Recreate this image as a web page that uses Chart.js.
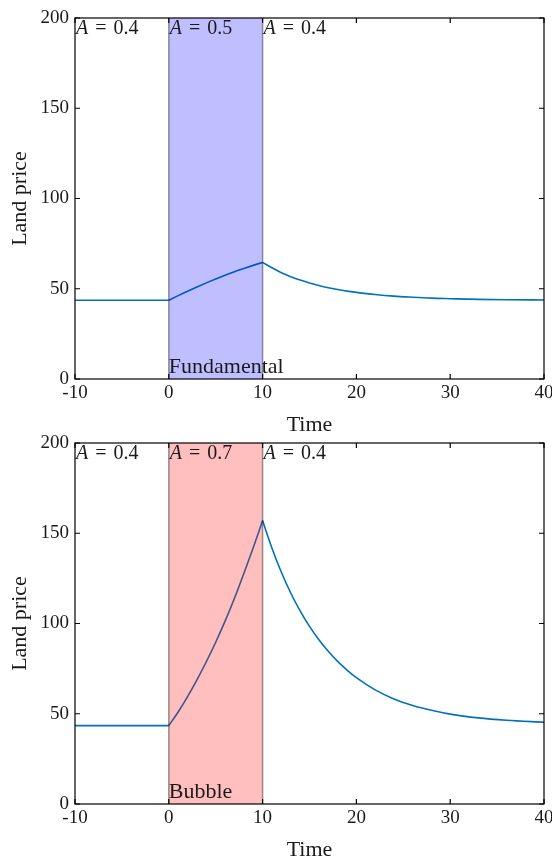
<!DOCTYPE html>
<html>
<head>
<meta charset="utf-8">
<script src="https://cdn.jsdelivr.net/npm/chart.js@4"></script>
<style>
  html, body { margin: 0; padding: 0; background: #fff; }
  #wrap { position: relative; width: 552px; height: 859px; overflow: hidden; }
  canvas { position: absolute; left: 0; }
  #topChart { top: 0; }
  #bottomChart { top: 425px; }
</style>
</head>
<body>
<div id="wrap">
  <canvas id="topChart" width="552" height="438"></canvas>
  <canvas id="bottomChart" width="552" height="438"></canvas>
</div>
<script>
// sample times
const times = [-10, 0, 1, 2, 3, 4, 5, 6, 7, 8, 9, 10,
    11, 12, 13, 14, 15, 16, 17, 18, 19, 20, 22, 24, 26, 28, 30, 33, 36, 40];

// top panel: fundamental price
const fundamentalPrice = [43.6, 43.6, 46.2, 48.65, 51.0, 53.25, 55.4, 57.45, 59.4, 61.2, 62.95, 64.6,
    61.6, 58.9, 56.7, 54.8, 53.2, 51.8, 50.6, 49.6, 48.7, 48.0, 46.8, 45.9, 45.3, 44.8, 44.5, 44.1, 43.9, 43.8];

// bottom panel: bubble price
const bubblePrice = [43.4, 43.4, 51.0, 59.5, 68.8, 78.8, 89.6, 101.3, 114.0, 127.7, 142.0, 157.0,
    141.7, 128.4, 116.9, 107.0, 98.4, 91.0, 84.6, 79.0, 74.2, 70.0, 63.2, 58.2, 54.6, 51.9, 49.8, 47.7, 46.4, 45.3];

// shaded window and A labels
const shadeWindow = [0, 10];
const regimeTimes = [-10, 0, 10];
const topRegimes = ['0.4', '0.5', '0.4'];
const bottomRegimes = ['0.4', '0.7', '0.4'];

const xTicks = [-10, 0, 10, 20, 30, 40];
const yTicks = [0, 50, 100, 150, 200];

const FONT = "'Liberation Serif', 'Times New Roman', serif";
const INK = '#1a1a1a';
const LINE = '#0072BD';

// split the path at the regime switches so the kinks stay sharp
function phases(series) {
    const cuts = regimeTimes.slice(1).map(t => times.indexOf(t));
    const bounds = [0, ...cuts, times.length - 1];
    const out = [];
    for (let k = 0; k < bounds.length - 1; k++) {
        const pts = [];
        for (let i = bounds[k]; i <= bounds[k + 1]; i++) pts.push({ x: times[i], y: series[i] });
        out.push({
            data: pts,
            borderColor: LINE,
            borderWidth: 1.6,
            pointRadius: 0,
            fill: false,
            cubicInterpolationMode: 'monotone'
        });
    }
    return out;
}

// shading, regime labels, box with inward ticks
function panelPlugin(shadeColor, regimes, caption) {
    return {
        id: 'panel',
        afterDatasetsDraw(chart) {
            const ctx = chart.ctx;
            const a = chart.chartArea;
            const xs = chart.scales.x;
            const x0 = xs.getPixelForValue(shadeWindow[0]);
            const x1 = xs.getPixelForValue(shadeWindow[1]);
            ctx.save();
            ctx.fillStyle = shadeColor;
            ctx.fillRect(x0, a.top, x1 - x0, a.bottom - a.top);
            ctx.strokeStyle = 'rgba(0,0,0,0.4)';
            ctx.lineWidth = 1.5;
            ctx.beginPath();
            ctx.moveTo(x0, a.top); ctx.lineTo(x0, a.bottom);
            ctx.moveTo(x1, a.top); ctx.lineTo(x1, a.bottom);
            ctx.stroke();

            ctx.fillStyle = INK;
            ctx.textBaseline = 'top';
            ctx.textAlign = 'left';
            regimeTimes.forEach((t, i) => {
                let px = xs.getPixelForValue(t) + 1;
                ctx.font = 'italic 20px ' + FONT;
                ctx.fillText('A', px, a.top + 1);
                px += ctx.measureText('A').width + 7;
                ctx.font = '20px ' + FONT;
                ctx.fillText('=', px, a.top + 1);
                px += ctx.measureText('=').width + 7;
                ctx.fillText(regimes[i], px, a.top + 1);
            });
            ctx.textBaseline = 'alphabetic';
            ctx.font = '22px ' + FONT;
            ctx.fillText(caption, x0, a.bottom - 6);
            ctx.restore();
        },
        afterDraw(chart) {
            const ctx = chart.ctx;
            const a = chart.chartArea;
            const xs = chart.scales.x;
            const ys = chart.scales.y;
            const len = 5;
            ctx.save();
            ctx.strokeStyle = '#000';
            ctx.lineWidth = 1.2;
            ctx.strokeRect(a.left, a.top, a.right - a.left, a.bottom - a.top);
            ctx.beginPath();
            xTicks.forEach(v => {
                const px = xs.getPixelForValue(v);
                ctx.moveTo(px, a.bottom); ctx.lineTo(px, a.bottom - len);
                ctx.moveTo(px, a.top); ctx.lineTo(px, a.top + len);
            });
            yTicks.forEach(v => {
                const py = ys.getPixelForValue(v);
                ctx.moveTo(a.left, py); ctx.lineTo(a.left + len, py);
                ctx.moveTo(a.right, py); ctx.lineTo(a.right - len, py);
            });
            ctx.stroke();
            ctx.restore();
        }
    };
}

function makePanel(canvasId, series, shadeColor, regimes, caption) {
    return new Chart(document.getElementById(canvasId), {
        type: 'line',
        data: { datasets: phases(series) },
        options: {
            responsive: false,
            animation: false,
            layout: { padding: { top: 18, right: 8, left: 0, bottom: 0 }, autoPadding: false },
            plugins: { legend: { display: false }, tooltip: { enabled: false } },
            scales: {
                x: {
                    type: 'linear',
                    min: -10,
                    max: 40,
                    afterBuildTicks: s => { s.ticks = xTicks.map(v => ({ value: v })); },
                    afterFit: s => { s.height = 59; s.paddingLeft = 0; s.paddingRight = 0; },
                    grid: { display: false, drawTicks: false },
                    border: { display: false },
                    ticks: { color: INK, font: { family: FONT, size: 19 }, padding: 3, maxRotation: 0 },
                    title: { display: true, text: 'Time', color: INK, font: { family: FONT, size: 22 }, padding: { top: 0, bottom: 0 } }
                },
                y: {
                    min: 0,
                    max: 200,
                    afterBuildTicks: s => { s.ticks = yTicks.map(v => ({ value: v })); },
                    afterFit: s => { s.width = 75; s.paddingTop = 0; s.paddingBottom = 0; },
                    grid: { display: false, drawTicks: false },
                    border: { display: false },
                    ticks: { color: INK, font: { family: FONT, size: 19 }, padding: 6 },
                    title: { display: true, text: 'Land price', color: INK, font: { family: FONT, size: 22 }, padding: { top: 7, bottom: 0 } }
                }
            }
        },
        plugins: [panelPlugin(shadeColor, regimes, caption)]
    });
}

makePanel('topChart', fundamentalPrice, 'rgba(0,0,255,0.25)', topRegimes, 'Fundamental');
makePanel('bottomChart', bubblePrice, 'rgba(255,0,0,0.25)', bottomRegimes, 'Bubble');
</script>
</body>
</html>
